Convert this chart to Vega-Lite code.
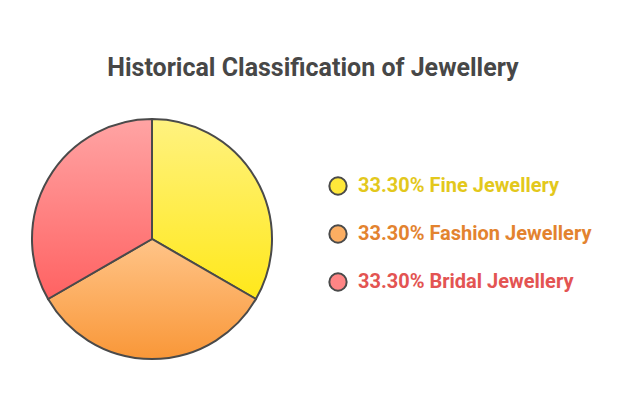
{
  "$schema": "https://vega.github.io/schema/vega-lite/v6.json",
  "width": 240,
  "height": 240,
  "padding": {"left": 28, "top": 56, "right": 20, "bottom": 20},
  "background": "white",
  "title": {
    "text": "Historical Classification of Jewellery",
    "font": "Roboto",
    "fontSize": 25,
    "fontWeight": "bold",
    "color": "#474747",
    "anchor": "middle",
    "frame": "bounds",
    "offset": 34,
    "dx": 3
  },
  "data": {
    "values": [
      {"category": "33.30% Fine Jewellery", "value": 33.3, "order": 1},
      {"category": "33.30% Fashion Jewellery", "value": 33.3, "order": 2},
      {"category": "33.30% Bridal Jewellery", "value": 33.3, "order": 3}
    ]
  },
  "transform": [
    {"stack": "value", "groupby": [], "sort": [{"field": "order", "order": "ascending"}], "as": ["start", "end"]}
  ],
  "encoding": {
    "theta": {"field": "start", "type": "quantitative", "stack": null, "scale": {"domain": [0, 99.9]}},
    "theta2": {"field": "end"}
  },
  "layer": [
    {
      "mark": {"type": "arc", "strokeWidth": 0},
      "encoding": {
        "color": {
          "field": "category",
          "type": "nominal",
          "sort": ["33.30% Fine Jewellery", "33.30% Fashion Jewellery", "33.30% Bridal Jewellery"],
          "scale": {
            "domain": ["33.30% Fine Jewellery", "33.30% Fashion Jewellery", "33.30% Bridal Jewellery"],
            "range": ["#FFE83A", "#FCAE62", "#FF8585"]
          },
          "legend": {
            "title": null,
            "orient": "none",
            "legendX": 296,
            "legendY": 57,
            "padding": 0,
            "symbolType": "circle",
            "symbolSize": 300,
            "symbolStrokeColor": "#4a4a4a",
            "symbolStrokeWidth": 2,
            "symbolOpacity": 1,
            "labelFont": "Roboto",
            "labelFontSize": 20,
            "labelFontWeight": "bold",
            "labelOffset": 10,
            "labelLimit": 400,
            "rowPadding": 22,
            "encode": {
              "labels": {
                "update": {
                  "fill": {"signal": "datum.value == '33.30% Fine Jewellery' ? '#E3C81C' : datum.value == '33.30% Fashion Jewellery' ? '#E3832F' : '#E35452'"}
                }
              }
            }
          }
        }
      }
    },
    {
      "transform": [{"filter": "datum.category == '33.30% Fine Jewellery'"}],
      "mark": {
        "type": "arc",
        "stroke": "#4a4a4a",
        "strokeWidth": 2,
        "fill": {"gradient": "linear", "x1": 0, "y1": 0, "x2": 0, "y2": 1, "stops": [{"offset": 0, "color": "#FFF280"}, {"offset": 1, "color": "#FFE81A"}]}
      }
    },
    {
      "transform": [{"filter": "datum.category == '33.30% Fashion Jewellery'"}],
      "mark": {
        "type": "arc",
        "stroke": "#4a4a4a",
        "strokeWidth": 2,
        "fill": {"gradient": "linear", "x1": 0, "y1": 0, "x2": 0, "y2": 1, "stops": [{"offset": 0, "color": "#FFC488"}, {"offset": 1, "color": "#F99738"}]}
      }
    },
    {
      "transform": [{"filter": "datum.category == '33.30% Bridal Jewellery'"}],
      "mark": {
        "type": "arc",
        "stroke": "#4a4a4a",
        "strokeWidth": 2,
        "fill": {"gradient": "linear", "x1": 0, "y1": 0, "x2": 0, "y2": 1, "stops": [{"offset": 0, "color": "#FFA4A4"}, {"offset": 1, "color": "#FF6262"}]}
      }
    }
  ],
  "config": {"view": {"stroke": null}}
}
